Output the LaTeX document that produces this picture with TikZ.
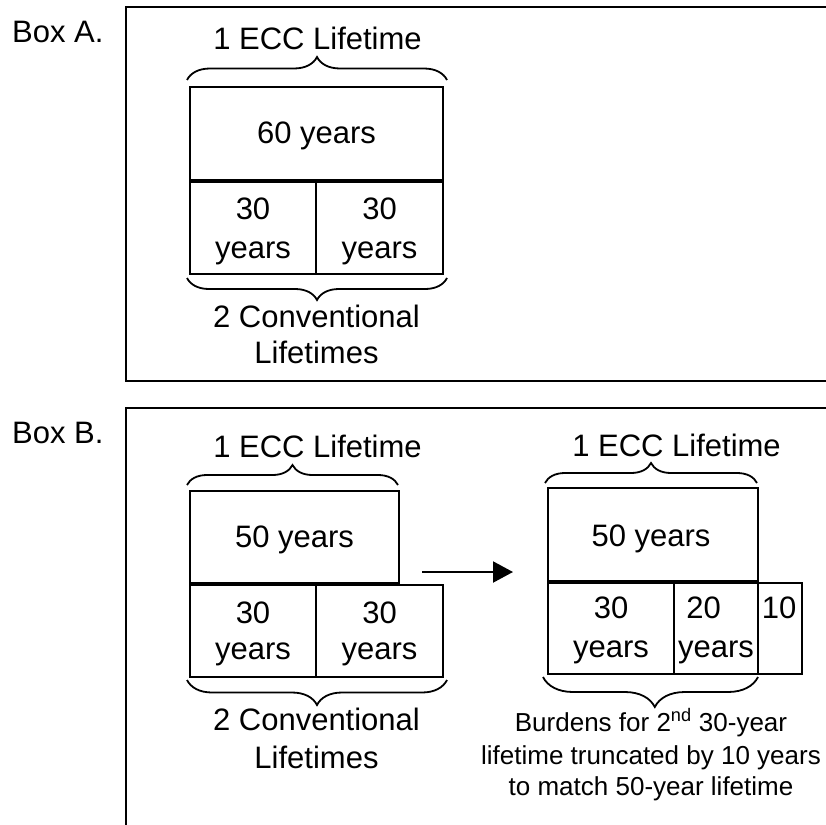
\documentclass[tikz,border=0pt]{standalone}
\usepackage{fontspec}
\setmainfont{Liberation Sans}
\usetikzlibrary{decorations.pathreplacing,arrows.meta}
\begin{document}
\begin{tikzpicture}[x=1pt,y=-1pt,
  frame/.style={line width=2pt},
  cell/.style={draw,line width=2pt,inner sep=0pt,outer sep=0pt},
  lbl/.style={inner sep=0pt,anchor=base,font=\fontsize{31}{38}\selectfont},
  captxt/.style={inner sep=0pt,anchor=base,font=\fontsize{26}{32}\selectfont},
  curly/.style={decorate,decoration={brace,amplitude=#1},line width=1.8pt},
  curlyat/.style 2 args={decorate,decoration={brace,amplitude=#1,aspect=#2},line width=1.8pt}
]
\useasboundingbox (0,0) rectangle (826,824);

% outer frames (open on the right / bottom)
\draw[frame] (826,7) -- (126,7) -- (126,381) -- (826,381);
\draw[frame] (826,408) -- (126,408) -- (126,826);
\node[lbl,anchor=base west] (labA) at (12,43) {Box A.};
\node[lbl,anchor=base west] (labB) at (12,443) {Box B.};

% ---------- Box A ----------
\node[lbl] (aTop) at (317.5,50) {1 ECC Lifetime};
\draw[curly=23pt] (187,80) -- (447,80);
\node[cell,minimum width=253pt,minimum height=93pt] (a60) at (316.5,133.5) {};
\node[lbl] (a60t) at (316.5,143) {60 years};
\node[cell,minimum width=126pt,minimum height=92pt] (a30l) at (253,228) {};
\node[cell,minimum width=127pt,minimum height=92pt] (a30r) at (379.5,228) {};
\node[lbl] (a30lt) at (253,219) {30};
\node[lbl] (a30ly) at (253,258) {years};
\node[lbl] (a30rt) at (379.5,219) {30};
\node[lbl] (a30ry) at (379.5,258) {years};
\draw[curly=22pt] (447,278) -- (187,278);
\node[lbl] (aBot1) at (316.5,327) {2 Conventional};
\node[lbl] (aBot2) at (316.5,363) {Lifetimes};

% ---------- Box B, left ----------
\node[lbl] (bTop) at (317.5,457) {1 ECC Lifetime};
\draw[curly=20pt] (187,485) -- (398,485);
\node[cell,minimum width=209pt,minimum height=92pt] (b50) at (294.5,537) {};
\node[lbl] (b50t) at (294.5,547) {50 years};
\node[cell,minimum width=126pt,minimum height=92pt] (b30l) at (253,631) {};
\node[cell,minimum width=127pt,minimum height=92pt] (b30r) at (379.5,631) {};
\node[lbl] (b30lt) at (253,623) {30};
\node[lbl] (b30ly) at (253,659) {years};
\node[lbl] (b30rt) at (379.5,623) {30};
\node[lbl] (b30ry) at (379.5,659) {years};
\draw[curly=25pt] (447,680) -- (187,680);
\node[lbl] (bBot1) at (316.5,730) {2 Conventional};
\node[lbl] (bBot2) at (316.5,768) {Lifetimes};

% arrow between the two layouts
\coordinate (arrS) at (422,572);
\coordinate (arrE) at (513,572);
\draw[line width=2pt,-{Triangle[length=20pt,width=21pt]}] (arrS) -- (arrE);

% ---------- Box B, right ----------
\node[lbl] (cTop) at (676.5,456) {1 ECC Lifetime};
\draw[curly=20pt] (545,483) -- (757,483);
\node[cell,minimum width=210pt,minimum height=93pt] (c50) at (653,534.5) {};
\node[lbl] (c50t) at (651,546) {50 years};
\node[cell,minimum width=126pt,minimum height=91pt] (c30) at (611,628.5) {};
\node[cell,minimum width=84pt,minimum height=91pt] (c20) at (716,628.5) {};
\node[cell,minimum width=44pt,minimum height=91pt] (c10) at (780,628.5) {};
\node[lbl] (c30t) at (611,618) {30};
\node[lbl] (c30y) at (611,657) {years};
\node[lbl] (c20t) at (703.5,618) {20};
\node[lbl] (c20y) at (716,657) {years};
\node[lbl] (c10t) at (779,618) {10};
\draw[curlyat={30pt}{0.48}] (758,677) -- (543,677);
\node[captxt] (cap1) at (651,731) {Burdens for 2\textsuperscript{nd} 30-year};
\node[captxt] (cap2) at (651,764) {lifetime truncated by 10 years};
\node[captxt] (cap3) at (651,795) {to match 50-year lifetime};
\end{tikzpicture}
\end{document}
